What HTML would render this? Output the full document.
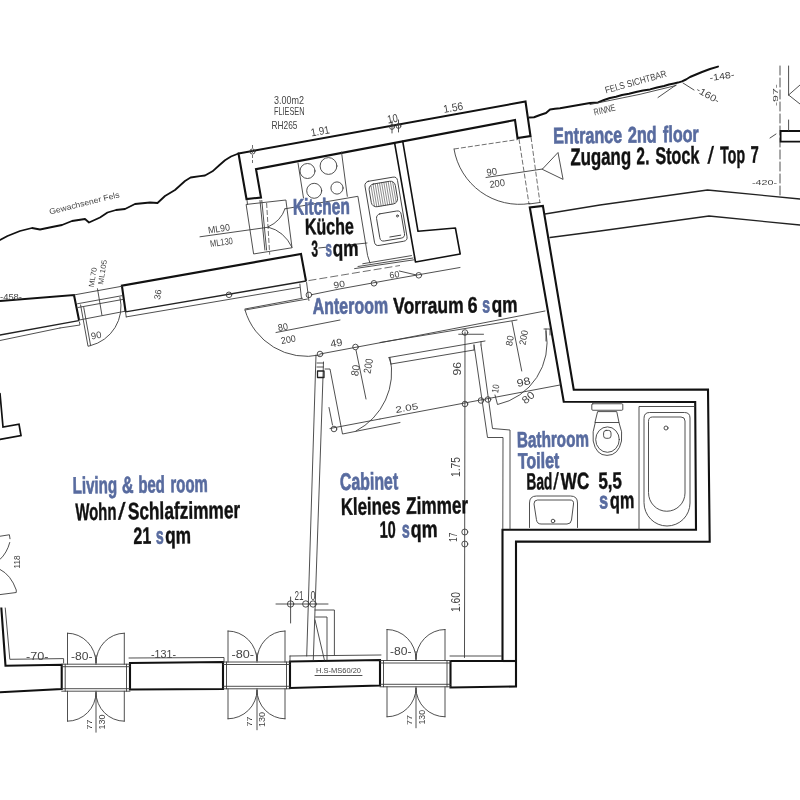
<!DOCTYPE html>
<html lang="de">
<head>
<meta charset="utf-8">
<title>Grundriss Top 7</title>
<style>
html,body{margin:0;padding:0;background:#fff;}
body{width:800px;height:800px;overflow:hidden;}
svg{display:block;filter:blur(0.45px);}
.k{fill:none;stroke:#111;stroke-width:2.1;stroke-linejoin:miter;stroke-linecap:butt;}
.m{fill:none;stroke:#222;stroke-width:1.3;stroke-linejoin:round;stroke-linecap:round;}
.t{fill:none;stroke:#3c3c3c;stroke-width:0.9;stroke-linejoin:round;stroke-linecap:round;}
.d{fill:none;stroke:#4a4a4a;stroke-width:0.8;stroke-dasharray:5 2;}
.lbl{font-family:"Liberation Sans",sans-serif;font-weight:bold;font-size:24px;fill:#111;stroke:#111;stroke-width:0.45;}
.b{fill:#586b9f;stroke:#586b9f;stroke-width:0.7;}
.cad{font-family:"Liberation Sans",sans-serif;font-size:8px;fill:#444;}
</style>
</head>
<body>
<svg width="800" height="800" viewBox="0 0 800 800">
<rect width="800" height="800" fill="#fff"/>

<!-- ===== WALLS (thick) ===== -->
<g id="walls">
<!-- top wall + kitchen left wall -->
<path class="k" d="M238.5 153.5 L525.5 101.5 L530.5 136 L517.5 138 L515 120 L256 169.200 L261 197.5 L246.5 199 Z"/>
<!-- right wall / bathroom / bottom right : closed band -->
<path class="k" d="M529.8 207.5 L563.75 401.7 L695.2 402 L696 529.8 L502.5 529.8 L502.5 661 L450.5 661 L450.5 687.5 L516 686.5 L516 541.6 L709.7 541.8 L708 389.5 L573.75 389.75 L542.9 205.9 Z"/>
<path class="k" d="M502.5 661 H516"/>
<!-- kitchen / anteroom partition -->
<path class="m" style="stroke-width:1.6;stroke:#111" d="M394.600 142.800 L415.5 262 L460.2 254 L455.4 228 L418 231.3 L402.700 141.200"/>
<!-- upper-left wall piece A -->
<path class="k" d="M0 301 L74 295 L79 320"/>
<path class="m" d="M0 335 L78.750 320.600"/>
<path class="t" d="M0 340.500 L60 328"/>
<!-- piece B -->
<path class="k" d="M125.600 311.900 L121.900 285.600 L301 254 L306 281"/>
<path class="m" d="M125.600 311.900 L306 281"/>
<path class="t" d="M126.250 316.900 L299.500 287.400"/>
<path class="t" d="M299.900 284 L301.400 297.900 M306.600 282.500 L308.900 300.500 M245 309 L302.500 298.250"/>
<!-- bottom wall -->
<path class="k" d="M1.3 607.5 L5.5 665.8 L61.7 664.8 L61.7 689 L0 692.2"/>
<path class="t" d="M5.250 608 L9.800 659.300 L63.600 658.600 V663"/>
<path class="k" d="M130 663 L223 662 L223 689 L130 689.5 Z"/>
<path class="k" d="M290 661.5 L380 660 L380 685.5 L290 688 Z"/>
</g>


<!-- ===== ROCK / OUTSIDE ===== -->
<g id="rock">
<path class="m" style="stroke-width:1.800;stroke:#111" d="M0 240 L7.5 236 L20 231 L32 228 L40 229.5 L52 227 L62 225 L72 221 L85 219 L89 222.5 L100 217.5 L107.5 212.5 L116 210 L125 209 L135 204 L150 202.5 L157.5 203 L165 196 L175 190 L185 181 L190.600 177.500 L200 176.200 L205 175.500 L212.500 171.300 L219 165.500 L225 160.300 L231 156.500 L238.5 153.5"/>
<path class="m" style="stroke-width:2;stroke:#111" d="M529.500 117.500 L534 117.200 L540 115 L546 113 L550 109.500 L555 108.800 L560 108.200 L570 106.500 L580 104.800 L590 103 L598 102.400 L604 100 L610 98 L616 96.800 L622 95 L629 93.800 L636 92 L643 90.500 L650 89.400 L657 87.500 L664 86 L669 84.500 L674 83.400 L678 82.600 L682 81.400 L686 79.500 L690 77 L696 74.500 L702 72 L710 69 L718 66.600"/>
<path class="t" d="M590 104.500 L640 94.300 L676 85.500 M658 97.500 L676 85 M683 83 L694 90"/>
<circle class="t" cx="252.500" cy="151.500" r="2.600"/>
<path class="d" style="stroke-dasharray:3 2" d="M252.500 145 V163.500"/>
<circle class="t" cx="392" cy="127" r="2.400"/>
<circle class="t" cx="398.500" cy="126" r="2.400"/>
<path class="t" d="M392 121 V133 M398.500 120 V132"/>
<!-- corridor lines -->
<path class="m" d="M545 214 L600 205 L707.5 190 L800 199"/>
<path class="m" d="M550 237.5 L600 231 L709 216 L800 225"/>
<!-- right top detail -->
<path class="t" style="stroke-dasharray:9 3" d="M780 66 L780 195"/>
<path class="m" style="stroke-width:1.800;stroke:#111;stroke-linejoin:miter;stroke-linecap:butt" d="M800 131 H780.600 V141.600 H800"/>
<path class="t" d="M788.600 66 V95 M788.600 120 V130.500 M788.600 95 L800 85 M788.600 95 L800 104 M770 138 L776 134"/>
</g>
<g id="cadtext" class="cad">
<text transform="translate(50,214.5) rotate(-14)" textLength="72" lengthAdjust="spacingAndGlyphs">Gewachsener Fels</text>
<text transform="translate(606,93.500) rotate(-15.500)" textLength="63.500" lengthAdjust="spacingAndGlyphs" style="font-size:9.500px">FELS SICHTBAR</text>
<text transform="translate(594.500,115.500) rotate(-13)" textLength="22" lengthAdjust="spacingAndGlyphs" style="font-size:9.500px">RINNE</text>
<text transform="translate(710,81) rotate(-8)" textLength="25" lengthAdjust="spacingAndGlyphs" style="font-size:9px">-148-</text>
<text transform="translate(695.500,91.500) rotate(30)" textLength="25" lengthAdjust="spacingAndGlyphs" style="font-size:9.500px">-160-</text>
<text transform="translate(777.500,106) rotate(-90)" textLength="22" lengthAdjust="spacingAndGlyphs">-97-</text>
<text x="752" y="185" textLength="25" lengthAdjust="spacingAndGlyphs">-420-</text>
<text transform="translate(388,123.500) rotate(-10)" textLength="10.500" lengthAdjust="spacingAndGlyphs" style="font-size:11.500px">10</text>
<text x="274" y="103.500" textLength="30" lengthAdjust="spacingAndGlyphs" style="font-size:10.500px">3.00m2</text>
<text x="274" y="114.500" textLength="30.500" lengthAdjust="spacingAndGlyphs" style="font-size:10.500px">FLIESEN</text>
<text x="271.500" y="129" textLength="26" lengthAdjust="spacingAndGlyphs" style="font-size:10.500px">RH265</text>
<text transform="translate(311.500,136.500) rotate(-10)" textLength="19" lengthAdjust="spacingAndGlyphs" style="font-size:11px">1.91</text>
<text transform="translate(444,113) rotate(-10)" textLength="20" lengthAdjust="spacingAndGlyphs" style="font-size:11px">1.56</text>
</g>


<!-- ===== KITCHEN ===== -->
<g id="kitchen">
<!-- stove -->
<path class="t" d="M298 163 L303.5 198 M341.5 152 L347.3 196.3"/>
<circle class="t" cx="307.5" cy="171" r="7.5"/>
<circle class="t" cx="328.5" cy="166" r="8.4"/>
<circle class="t" cx="314.2" cy="190.8" r="7.5"/>
<circle class="t" cx="337" cy="188" r="6.1"/>
<!-- counter rectangle under label -->
<path class="t" d="M285 208.800 L357.9 196.3 L367.6 255.6 L370 263"/>
<path class="t" d="M318.75 248 L326 247.2 M351 244.700 L367 243"/>
<!-- sink unit -->
<g transform="translate(364.3,182) rotate(-9.600)">
<rect class="t" x="0" y="0" width="33" height="65" rx="4"/>
<rect class="t" x="3.5" y="3.500" width="26.5" height="23" rx="5"/>
<path class="t" style="stroke-width:0.55" d="M6 5 V25 M8.200 4 V26 M10.400 3.700 V26.300 M12.600 3.600 V26.400 M14.800 3.600 V26.400 M17 3.600 V26.400 M19.200 3.600 V26.400 M21.400 3.600 V26.400 M23.600 3.700 V26.300 M25.800 4 V26 M28 5 V25"/>
<rect class="t" x="6" y="34" width="25" height="27.5" rx="4"/>
<path class="t" d="M16 58.500 H27"/>
<circle class="t" cx="27" cy="39" r="1"/>
</g>
<path class="t" d="M362.75 263.75 L411.5 255.6 M358 266.5 L413 258 M354.6 268.600 L414.750 259.700"/>
<path class="t" d="M399.300 271 L416.400 275"/>
<circle class="t" cx="418.800" cy="275.300" r="2.800"/>
<!-- window at kitchen left -->
<path class="t" d="M246.500 204.400 L285.900 200 L292 247.750 L254 253.900 Z"/>
<path class="t" d="M247 200 L247.500 204.400 M260 200.500 L264.900 250 M261.800 200.500 L266.600 250"/>
<path class="d" d="M266.600 203 L269.700 254.700"/>
<path class="t" d="M285 208.800 Q281 221 268.400 226.750 M268.400 227.200 Q284 231 292 247.300"/>
<path class="t" d="M200 236.800 L268.400 227.200"/>
<!-- dim lines below kitchen -->
<path class="d" style="stroke-dasharray:8 3" d="M308.500 280.600 L340 275.400 L400 265.500"/>
<path class="t" d="M311.500 294.700 L340 288.900 L400 278 L460 267.5"/>
<circle class="t" cx="308.900" cy="294.900" r="2.800"/>
<circle class="t" cx="374" cy="283.300" r="2.800"/>
<circle class="t" cx="229" cy="294.800" r="2.800"/>
</g>

<!-- ===== WINDOWS ===== -->
<g id="windows">
<path class="t" d="M61.7 664.2 H130 M61.7 666.7 H130 M61.7 688.7 H130 M61.7 691.2 H130 M65.2 664.2 V691.2 M126.5 664.2 V691.2"/>
<path class="t" d="M67.5 664.2 V633.2 M124.3 664.2 V633.2 M67.5 633.2 A28.5 30 0 0 1 96 663.2 A28.299999999999997 30 0 0 1 124.3 633.2 M96 655.2 V664.2"/>
<path class="t" d="M67.5 691.2 V721.2 M124.3 691.2 V721.2 M67.5 721.2 A28.5 29 0 0 0 96 692.2 A28.299999999999997 29 0 0 0 124.3 721.2 M96 691.2 V732.2"/>
<path class="t" d="M223 662 H290 M223 664.5 H290 M223 686.3 H290 M223 688.8 H290 M226.5 662 V688.8 M286.5 662 V688.8"/>
<path class="t" d="M228 662 V631 M285 662 V631 M228 631 A29 30 0 0 1 257 661 A28 30 0 0 1 285 631 M257 653 V662"/>
<path class="t" d="M228 688.8 V718.8 M285 688.8 V718.8 M228 718.8 A29 29 0 0 0 257 689.8 A28 29 0 0 0 285 718.8 M257 688.8 V729.8"/>
<path class="t" d="M380 660.5 H450.5 M380 663.0 H450.5 M380 684.3 H450.5 M380 686.8 H450.5 M383.5 660.5 V686.8 M447.0 660.5 V686.8"/>
<path class="t" d="M387 660.5 V629.5 M445 660.5 V629.5 M387 629.5 A29 30 0 0 1 416 659.5 A29 30 0 0 1 445 629.5 M416 651.5 V660.5"/>
<path class="t" d="M387 686.8 V716.8 M445 686.8 V716.8 M387 716.8 A29 29 0 0 0 416 687.8 A29 29 0 0 0 445 716.8 M416 686.8 V727.8"/>
<path class="t" d="M129 658 L224 657.5 V662 M290 656 L381 655 M290 656 V661 M450 656 H501.500"/>
</g>
<g class="cad" id="windim">
<text x="26" y="660" textLength="22.500" lengthAdjust="spacingAndGlyphs" style="font-size:11px">-70-</text>
<text x="71" y="659.500" textLength="21.500" lengthAdjust="spacingAndGlyphs" style="font-size:11px">-80-</text>
<text x="151" y="658" textLength="25" lengthAdjust="spacingAndGlyphs" style="font-size:10px">-131-</text>
<text x="231.500" y="658" textLength="22.500" lengthAdjust="spacingAndGlyphs" style="font-size:10px">-80-</text>
<text x="390" y="655" textLength="21.500" lengthAdjust="spacingAndGlyphs" style="font-size:10px">-80-</text>
<text transform="translate(92,729.500) rotate(-90)" textLength="10" lengthAdjust="spacingAndGlyphs">77</text>
<text transform="translate(105,729.500) rotate(-90)" textLength="15" lengthAdjust="spacingAndGlyphs" style="font-size:9px">130</text>
<text transform="translate(252,726.500) rotate(-90)" textLength="10" lengthAdjust="spacingAndGlyphs">77</text>
<text transform="translate(264.500,727) rotate(-90)" textLength="15" lengthAdjust="spacingAndGlyphs" style="font-size:9px">130</text>
<text transform="translate(411.500,725) rotate(-90)" textLength="10" lengthAdjust="spacingAndGlyphs">77</text>
<text transform="translate(424.500,724.500) rotate(-90)" textLength="14.500" lengthAdjust="spacingAndGlyphs" style="font-size:9px">130</text>
<text x="316" y="672.500" textLength="45" lengthAdjust="spacingAndGlyphs" style="font-size:6.5px">H.S-MS60/20</text>
</g>
<path class="t" d="M315 675.500 H362"/>

<!-- ===== INTERIOR ===== -->
<g id="interior">
<!-- living/cabinet partition -->
<path class="t" d="M316 355 L306.700 656 M323.500 362 L313.300 660"/>
<path class="t" d="M315 610 H334.400 V655 M315.600 617 H327 V660 M315 620 L324.400 660"/>
<rect class="m" x="317.500" y="371" width="6.500" height="6.500"/>
<path class="t" d="M317 363 H323.500 M317 367 H323.500"/>
<!-- dim 21|0 -->
<path class="t" d="M276 604 H328 M290.600 597 V623"/>
<circle class="t" cx="290.600" cy="604" r="3.200"/>
<circle class="t" cx="305.800" cy="604" r="3.200"/>
<circle class="t" cx="313.100" cy="604" r="3.200"/>
<!-- living room door -->
<path class="t" d="M245 310 L307.500 299"/>
<path class="t" d="M245 310 A64 64 0 0 0 320 355"/>
<path class="t" d="M276 332.500 L340 320"/>
<!-- dimension line anteroom/cabinet -->
<path class="t" d="M320 354 L400 339 L545 311"/>
<circle class="t" cx="320" cy="354" r="2.800"/>
<circle class="t" cx="355.500" cy="347" r="2.800"/>
<path class="t" d="M356 350 L366 399"/>
<!-- cabinet door -->
<path class="t" d="M325 369 H330 L342.500 434 L400 422.500"/>
<path class="t" d="M390 357.500 A66 66 0 0 1 356 431"/>
<path class="t" d="M329 407.500 L332.500 425"/>
<circle class="t" cx="334" cy="429" r="2.800"/>
<!-- cabinet top wall stub -->
<path class="t" d="M389 357.500 L485 341 M391 364 L474 350 M389 357.500 L391 364"/>
<path class="t" d="M380 342.500 L517 320"/>
<!-- cabinet / bath partition -->
<path class="t" d="M474 345 L487.500 437.500 L503 437.500 L502.800 529 M481 345 L492.500 428.500 L510 430 L510 529"/>
<path class="t" d="M481 341.500 L481 345 M474 345 L474 350"/>
<!-- vertical dim -->
<path class="t" d="M465 332 L464.500 657.500"/>
<circle class="t" cx="465" cy="332.500" r="2.800"/>
<circle class="t" cx="465" cy="404" r="2.800"/>
<circle class="t" cx="464.800" cy="532" r="3"/>
<circle class="t" cx="464.800" cy="544" r="3"/>
<circle class="t" cx="481" cy="400.500" r="2.800"/>
<circle class="t" cx="488" cy="399.500" r="2.800"/>
<!-- 2.05 dim -->
<path class="t" d="M380 419 L560 385 M330 428.500 L380 419"/>
<!-- bath door -->
<path class="t" d="M546 331 A63 63 0 0 1 497.500 404.500 L495 395"/>
<path class="t" d="M544 329 H550 V335 M546 329 V341"/>
<path class="t" d="M512 321.500 L521.750 371"/>
<path class="t" d="M458.750 334.250 H483.500"/>
</g>
<g id="bath">
<!-- toilet -->
<rect class="t" x="591.800" y="403.750" width="31" height="6.500" rx="1"/>
<path class="t" d="M598 411.600 H616.750 L619 422.500 H595.300 Z"/>
<path class="t" d="M595.300 422.300 Q592 432 593.200 441 Q596 455.400 607 455.400 Q618.500 455.400 621.500 441 Q623 432 619 422.500"/>
<ellipse class="t" cx="607.500" cy="439.600" rx="11.800" ry="12.700"/>
<rect class="t" x="603.600" y="430.400" width="7.400" height="7.900" rx="2.500"/>
<!-- bathtub -->
<path class="t" d="M695 406.500 H639 V529.500"/>
<path class="t" d="M644 418 Q644 412.500 649.500 412.500 H684.500 Q690 412.500 690 418 V503 A23 23 0 0 1 644 503 Z"/>
<path class="t" d="M648.500 421 Q648.500 417 652.500 417 H681 Q685 417 685 421 V493 A18.250 18.250 0 0 1 648.500 493 Z"/>
<circle class="t" cx="666" cy="428" r="2"/>
<!-- sink -->
<path class="t" d="M529.500 527.500 V503 Q529.500 496 536.500 496 H570.500 Q577.500 496 577.500 503 V527.500"/>
<path class="t" d="M534 503.500 Q534 500 537.500 500 H570 Q574 500 573.500 504 L571.500 520 Q571 524 567 524 H541 Q537 524 536.500 520 Z"/>
<circle class="t" cx="553" cy="521" r="1.800"/>
</g>
<g id="leftbits">
<path class="m" style="stroke-width:1.700;stroke:#111;stroke-linejoin:miter" d="M0 393.500 L3 427 L19 424.200 L21 435.500 L0 439.300"/>
<path class="t" d="M0 536.250 L9.400 534.750 L10 538.750 M9.750 542.500 Q7 553 0 559.400 M0 569.400 Q11 575 16.250 590 V592.500 L0 594.600"/>
</g>
<g class="cad" id="cad2" style="font-size:9px">
<text transform="translate(331,347.500) rotate(-10)" textLength="12" lengthAdjust="spacingAndGlyphs" style="font-size:10.500px">49</text>
<text transform="translate(278.500,331) rotate(-10)" textLength="10" lengthAdjust="spacingAndGlyphs" style="font-size:9.500px">80</text>
<text transform="translate(281.500,344) rotate(-10)" textLength="15" lengthAdjust="spacingAndGlyphs" style="font-size:9.500px">200</text>
<text transform="translate(396,413) rotate(-10)" textLength="23" lengthAdjust="spacingAndGlyphs">2.05</text>
<text transform="translate(334,288.500) rotate(-10)" textLength="11.500" lengthAdjust="spacingAndGlyphs">90</text>
<text transform="translate(390,278.500) rotate(-10)" textLength="10" lengthAdjust="spacingAndGlyphs">60</text>
<text transform="translate(460.500,375.500) rotate(-90)" textLength="13.500" lengthAdjust="spacingAndGlyphs" style="font-size:10.500px">96</text>
<text transform="translate(460.300,477) rotate(-90)" textLength="20" lengthAdjust="spacingAndGlyphs" style="font-size:13px">1.75</text>
<text transform="translate(460.300,612) rotate(-90)" textLength="20" lengthAdjust="spacingAndGlyphs" style="font-size:13px">1.60</text>
<text transform="translate(456.500,542) rotate(-90)" textLength="9.500" lengthAdjust="spacingAndGlyphs" style="font-size:10.500px">17</text>
<text transform="translate(517.500,387) rotate(-12)" textLength="14" lengthAdjust="spacingAndGlyphs" style="font-size:10.500px">98</text>
<text transform="translate(525.500,404.500) rotate(-40)" textLength="13" lengthAdjust="spacingAndGlyphs" style="font-size:10.500px">80</text>
<text transform="translate(358,376.500) rotate(-80)" textLength="11" lengthAdjust="spacingAndGlyphs" style="font-size:10.500px">80</text>
<text transform="translate(370.500,374) rotate(-80)" textLength="15" lengthAdjust="spacingAndGlyphs" style="font-size:10.500px">200</text>
<text transform="translate(512,346.500) rotate(-80)" textLength="10.500" lengthAdjust="spacingAndGlyphs" style="font-size:9.500px">80</text>
<text transform="translate(525.500,345.500) rotate(-80)" textLength="15" lengthAdjust="spacingAndGlyphs" style="font-size:9.500px">200</text>
<text transform="translate(498,393.500) rotate(-80)" textLength="8.500" lengthAdjust="spacingAndGlyphs" style="font-size:9.500px">10</text>
<text x="294.400" y="600" textLength="9" lengthAdjust="spacingAndGlyphs" style="font-size:12px">21</text>
<text x="310.600" y="600" textLength="5" lengthAdjust="spacingAndGlyphs" style="font-size:12px">0</text>
<text transform="translate(19.500,568.500) rotate(-90)" textLength="13" lengthAdjust="spacingAndGlyphs">118</text>
<text transform="translate(160,300) rotate(-80)" textLength="10" lengthAdjust="spacingAndGlyphs">36</text>
<text x="0" y="300" textLength="22" lengthAdjust="spacingAndGlyphs">-458-</text>
</g>

<!-- ===== ENTRANCE ===== -->
<g id="entrance">
<path class="d" d="M454 149 L518 139.500"/>
<path class="t" d="M454 149 A66 66 0 0 0 530 203.500"/>
<path class="d" d="M519 139 L529 204 M531 137 L540 203"/>
<path class="t" d="M486 177.500 L542.500 169 M542.500 169 L558 152.500 L563 179 Z"/>
<path class="t" d="M529 204 L540 202.500"/>
</g>
<g id="doorA">
<path class="t" d="M73.750 295 L121.900 286.250 M77.500 303.750 L122.500 295.600 M78 307.500 L123 299.400 M79.400 320 L125 311.250"/>
<path class="t" d="M80.600 305 L88 346.250 L90.600 345.600 L83.750 307.500"/>
<path class="t" d="M120 297.500 A40 40 0 0 1 90.600 345.600"/>
<path class="t" d="M97.500 288.750 L101.900 315"/>
<path class="t" d="M60 328 L80 325 L79.400 322 M125.600 312.500 L126.250 316.900"/>
</g>
<g class="cad" id="cad3">
<text transform="translate(487,176) rotate(-8)" textLength="10.500" lengthAdjust="spacingAndGlyphs" style="font-size:10px">90</text>
<text transform="translate(490,188) rotate(-8)" textLength="15.500" lengthAdjust="spacingAndGlyphs" style="font-size:10px">200</text>
<text transform="translate(208.500,233.500) rotate(-8)" textLength="22" lengthAdjust="spacingAndGlyphs" style="font-size:9.500px">ML90</text>
<text transform="translate(210.500,247) rotate(-8)" textLength="23" lengthAdjust="spacingAndGlyphs" style="font-size:9.500px">ML130</text>
<text transform="translate(93.800,287.500) rotate(-81)" textLength="20" lengthAdjust="spacingAndGlyphs" style="font-size:7.500px">ML70</text>
<text transform="translate(103,285) rotate(-81)" textLength="25" lengthAdjust="spacingAndGlyphs" style="font-size:7.500px">ML105</text>
<text transform="translate(91.500,339.500) rotate(-10)" textLength="10.500" lengthAdjust="spacingAndGlyphs" style="font-size:9.500px">90</text>
</g>

<!-- ===== LABELS ===== -->
<g id="labels" class="lbl">
<text y="143.6" font-size="22.7" transform="rotate(-0.75 554.0 143.6)"><tspan class="b" x="553.3" textLength="68.8" lengthAdjust="spacingAndGlyphs">Entrance</tspan> <tspan class="b" x="627.9" textLength="28.8" lengthAdjust="spacingAndGlyphs">2nd</tspan> <tspan class="b" x="663.1" textLength="35.7" lengthAdjust="spacingAndGlyphs">floor</tspan></text>
<text y="165.2" font-size="24" transform="rotate(-0.75 570.5 165.2)"><tspan x="570.4" textLength="60.8" lengthAdjust="spacingAndGlyphs">Zugang</tspan> <tspan x="636.6" textLength="12.8" lengthAdjust="spacingAndGlyphs">2.</tspan> <tspan x="655.4" textLength="44.1" lengthAdjust="spacingAndGlyphs">Stock</tspan> <tspan style="font-weight:normal;stroke-width:0.3" x="707.4" textLength="6.7" lengthAdjust="spacingAndGlyphs">/</tspan> <tspan x="720.2" textLength="25.0" lengthAdjust="spacingAndGlyphs">Top</tspan> <tspan x="750.8" textLength="8.2" lengthAdjust="spacingAndGlyphs">7</tspan></text>
<text y="214.3" font-size="22.7" transform="rotate(-0.75 321.6 214.3)"><tspan class="b" x="293.1" textLength="56.8" lengthAdjust="spacingAndGlyphs">Kitchen</tspan></text>
<text y="234.3" font-size="22.7" transform="rotate(-0.75 329.7 234.3)"><tspan x="304.9" textLength="49.0" lengthAdjust="spacingAndGlyphs">Küche</tspan></text>
<text y="256.2" font-size="22.7" transform="rotate(-0.75 334.6 256.2)"><tspan x="311.4" textLength="6.6" lengthAdjust="spacingAndGlyphs">3</tspan> <tspan class="b" x="325.6" textLength="6.5" lengthAdjust="spacingAndGlyphs">s</tspan> <tspan x="332.7" textLength="25.9" lengthAdjust="spacingAndGlyphs">qm</tspan></text>
<text y="314.1" font-size="22.8" transform="rotate(-0.75 312.7 314.1)"><tspan class="b" x="312.7" textLength="75.5" lengthAdjust="spacingAndGlyphs">Anteroom</tspan></text>
<text y="312.8" font-size="22.6" transform="rotate(-0.75 455.0 312.8)"><tspan x="393.3" textLength="70.4" lengthAdjust="spacingAndGlyphs">Vorraum</tspan> <tspan x="467.7" textLength="9.9" lengthAdjust="spacingAndGlyphs">6</tspan> <tspan class="b" x="482.3" textLength="7.9" lengthAdjust="spacingAndGlyphs">s</tspan> <tspan x="491.7" textLength="25.9" lengthAdjust="spacingAndGlyphs">qm</tspan></text>
<text y="493.6" font-size="23.5" transform="rotate(-0.75 73.4 493.6)"><tspan class="b" x="72.8" textLength="44.4" lengthAdjust="spacingAndGlyphs">Living</tspan> <tspan class="b" x="121.9" textLength="11.6" lengthAdjust="spacingAndGlyphs">&amp;</tspan> <tspan class="b" x="138.4" textLength="26.6" lengthAdjust="spacingAndGlyphs">bed</tspan> <tspan class="b" x="170.4" textLength="37.6" lengthAdjust="spacingAndGlyphs">room</tspan></text>
<text y="520.2" font-size="24" transform="rotate(-0.75 75.0 520.2)"><tspan x="75.4" textLength="41.1" lengthAdjust="spacingAndGlyphs">Wohn</tspan> <tspan style="font-weight:normal;stroke-width:0.3" x="118.1" textLength="7.7" lengthAdjust="spacingAndGlyphs">/</tspan> <tspan x="127.9" textLength="112.4" lengthAdjust="spacingAndGlyphs">Schlafzimmer</tspan></text>
<text y="543.6" font-size="23.6" transform="rotate(-0.75 162.1 543.6)"><tspan x="133.6" textLength="17.7" lengthAdjust="spacingAndGlyphs">21</tspan> <tspan class="b" x="156.1" textLength="7.8" lengthAdjust="spacingAndGlyphs">s</tspan> <tspan x="165.2" textLength="25.9" lengthAdjust="spacingAndGlyphs">qm</tspan></text>
<text y="490.0" font-size="24" transform="rotate(-0.75 340.3 490.0)"><tspan class="b" x="340.0" textLength="58.2" lengthAdjust="spacingAndGlyphs">Cabinet</tspan></text>
<text y="514.9" font-size="24" transform="rotate(-0.75 341.6 514.9)"><tspan x="340.9" textLength="59.7" lengthAdjust="spacingAndGlyphs">Kleines</tspan> <tspan x="406.2" textLength="61.9" lengthAdjust="spacingAndGlyphs">Zimmer</tspan></text>
<text y="537.4" font-size="23.5" transform="rotate(-0.75 408.6 537.4)"><tspan x="379.7" textLength="16.1" lengthAdjust="spacingAndGlyphs">10</tspan> <tspan class="b" x="402.1" textLength="7.8" lengthAdjust="spacingAndGlyphs">s</tspan> <tspan x="410.7" textLength="26.9" lengthAdjust="spacingAndGlyphs">qm</tspan></text>
<text y="447.3" font-size="22" transform="rotate(-0.75 517.8 447.3)"><tspan class="b" x="517.1" textLength="71.9" lengthAdjust="spacingAndGlyphs">Bathroom</tspan></text>
<text y="468.4" font-size="22" transform="rotate(-0.75 517.8 468.4)"><tspan class="b" x="518.0" textLength="41.3" lengthAdjust="spacingAndGlyphs">Toilet</tspan></text>
<text y="489.6" font-size="23.4" transform="rotate(-0.75 527.0 489.6)"><tspan x="526.5" textLength="25.9" lengthAdjust="spacingAndGlyphs">Bad</tspan> <tspan style="font-weight:normal;stroke-width:0.3" x="553.2" textLength="5.8" lengthAdjust="spacingAndGlyphs">/</tspan> <tspan x="560.7" textLength="28.7" lengthAdjust="spacingAndGlyphs">WC</tspan> <tspan x="598.4" textLength="23.7" lengthAdjust="spacingAndGlyphs">5,5</tspan></text>
<text y="508.4" font-size="23.5" transform="rotate(-0.75 616.8 508.4)"><tspan class="b" x="599.3" textLength="8.9" lengthAdjust="spacingAndGlyphs">s</tspan> <tspan x="610.1" textLength="24.4" lengthAdjust="spacingAndGlyphs">qm</tspan></text>
</g>

</svg>
</body>
</html>
